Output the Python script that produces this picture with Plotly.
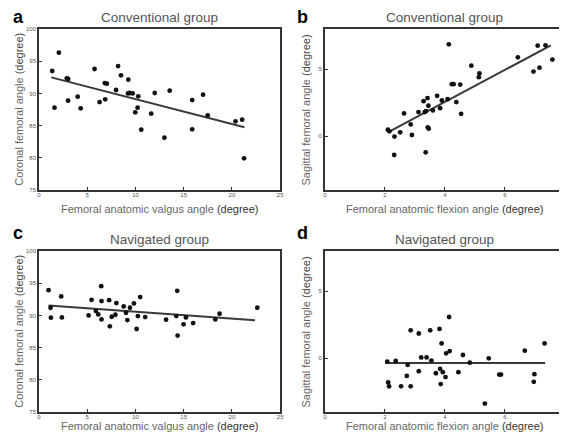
import plotly.graph_objects as go

# Panel a: Conventional group, coronal
a_x = [1.37, 1.61, 2.06, 2.88, 3.02, 3.02, 4.01, 4.32, 5.76, 6.28, 6.82, 7.03, 6.86, 7.99, 8.20, 8.50,
       9.26, 9.22, 9.40, 9.71, 9.98, 10.22, 10.29, 10.60, 11.63, 12.00, 13.0, 13.55, 15.88, 15.88,
       17.01, 17.49, 20.37, 21.06, 21.26]
a_y = [93.48, 87.78, 96.33, 92.34, 92.24, 88.87, 89.49, 87.68, 93.79, 88.66, 91.61, 91.51, 89.08, 90.53,
       94.25, 92.81, 92.13, 90.0, 90.06, 90.0, 87.06, 87.78, 89.54, 84.37, 86.85, 90.06, 83.13, 90.42,
       88.97, 84.42, 89.80, 86.59, 85.66, 85.92, 79.92]
a_fit_x = [1.27, 21.30]
a_fit_y = [92.49, 84.73]

# Panel b: Conventional group, sagittal
b_x = [2.10, 2.15, 2.32, 2.31, 2.51, 2.64, 2.86, 2.90, 3.12, 3.29, 3.33, 3.37, 3.42, 3.45, 3.43, 3.46,
       3.36, 3.60, 3.74, 3.84, 3.90, 4.09, 4.13, 4.23, 4.29, 4.38, 4.51, 4.54, 4.88, 5.13, 5.15, 6.43,
       6.95, 7.09, 7.15, 7.35, 7.58]
b_y = [0.50, 0.37, -0.02, -1.39, 0.30, 1.71, 0.89, 0.10, 1.81, 2.62, 1.81, 1.88, 2.85, 2.28, 0.67, 0.57,
       -1.19, 1.93, 3.02, 2.10, 2.67, 2.77, 6.86, 3.89, 3.89, 2.55, 3.86, 1.68, 5.27, 4.41, 4.70, 5.89,
       4.83, 6.76, 5.12, 6.78, 5.72]
b_fit_x = [2.10, 7.53]
b_fit_y = [0.30, 6.78]

# Panel c: Navigated group, coronal
c_x = [0.99, 1.20, 1.23, 2.30, 2.37, 5.14, 5.45, 5.90, 6.14, 6.45, 6.48, 6.48, 7.27, 7.34, 7.54, 7.92,
       8.02, 8.78, 9.02, 9.16, 9.43, 9.84, 10.12, 10.25, 10.49, 11.01, 13.17, 14.23, 14.33, 14.37, 14.99,
       15.23, 15.98, 18.28, 18.72, 22.63]
c_y = [93.92, 91.19, 89.64, 92.94, 89.69, 90.0, 92.42, 90.67, 90.15, 94.54, 92.22, 89.38, 92.37, 88.30,
       89.79, 90.10, 91.91, 91.39, 90.41, 89.28, 91.19, 91.86, 87.89, 89.90, 92.84, 89.74, 89.33, 89.90,
       93.81, 86.86, 88.61, 89.69, 88.81, 89.38, 90.26, 91.19]
c_fit_x = [0.99, 22.39]
c_fit_y = [91.55, 89.23]

# Panel d: Navigated group, sagittal
d_x = [2.08, 2.11, 2.14, 2.36, 2.54, 2.73, 2.76, 2.86, 2.86, 3.13, 3.13, 3.21, 3.39, 3.51, 3.55, 3.70,
       3.82, 3.84, 3.86, 3.89, 3.93, 4.04, 4.02, 4.14, 4.16, 4.45, 4.60, 4.83, 5.33, 5.46, 5.81, 5.87,
       6.66, 6.98, 6.96, 7.32]
d_y = [-0.25, -1.80, -2.09, -0.20, -2.09, -1.31, -0.49, 2.09, -2.09, 1.85, -0.96, 0.07, 0.07, 2.09, -0.17,
       -1.11, 2.19, -0.79, -1.92, 1.11, -1.03, 0.37, -1.40, 3.08, 0.54, -1.03, 0.25, -0.32, -3.37, 0.0,
       -1.21, -1.21, 0.57, -1.18, -1.75, 1.11]
d_fit_x = [2.01, 7.34]
d_fit_y = [-0.34, -0.34]

titles = ["Conventional group", "Conventional group", "Navigated group", "Navigated group"]
panel_letters = ["a", "b", "c", "d"]
x_titles = ["Femoral anatomic valgus angle", "Femoral anatomic flexion angle",
            "Femoral anatomic valgus angle", "Femoral anatomic flexion angle"]
y_titles = ["Coronal femoral angle", "Sagittal femoral angle",
            "Coronal femoral angle", "Sagittal femoral angle"]

W, H = 567, 432
ML, MR, MT, MB = 31, 6, 21, 28
PW, PH = W - ML - MR, H - MT - MB


def px(x):
    return (x - ML) / PW


def py(y):
    return (H - MB - y) / PH


FONT = "Liberation Sans, Arial, sans-serif"
fig = go.Figure()

panels = [
    (a_x, a_y, a_fit_x, a_fit_y, "x", "y"),
    (b_x, b_y, b_fit_x, b_fit_y, "x2", "y2"),
    (c_x, c_y, c_fit_x, c_fit_y, "x3", "y3"),
    (d_x, d_y, d_fit_x, d_fit_y, "x4", "y4"),
]
for xs, ys, fx, fy, xa, ya in panels:
    fig.add_trace(go.Scatter(x=fx, y=fy, mode="lines", xaxis=xa, yaxis=ya,
                             line=dict(color="#3a3a3a", width=2), showlegend=False))
    fig.add_trace(go.Scatter(x=xs, y=ys, mode="markers", xaxis=xa, yaxis=ya,
                             marker=dict(color="#111111", size=4.8), showlegend=False))

# pixel boxes for plot areas (left, right, top, bottom)
boxes = [(31, 274, 21, 182), (319, 561, 21, 182), (31, 274, 243, 404), (319, 561, 243, 404)]
xranges = [[0, 25], [0, 8], [0, 25], [0, 8]]
yranges = [[75, 100], [-4, 8], [75, 100], [-4, 8]]
xtick = [[0, 5, 10, 15, 20, 25], [0, 2, 4, 6, 8], [0, 5, 10, 15, 20, 25], [0, 2, 4, 6, 8]]
ytick = [[75, 80, 85, 90, 95, 100], [0, 5], [75, 80, 85, 90, 95, 100], [0, 5]]

axis_common = dict(showgrid=False, zeroline=False, showline=True, mirror=True,
                   linecolor="#333333", linewidth=1.5, ticks="inside", ticklen=3,
                   tickcolor="#333333", tickfont=dict(size=6, color="#555555", family=FONT))

for i, (l, r, t, b) in enumerate(boxes):
    sfx = "" if i == 0 else str(i + 1)
    fig.update_layout(**{
        "xaxis" + sfx: dict(domain=[px(l), px(r)], range=xranges[i], tickvals=xtick[i],
                            anchor="y" + sfx, ticklabelstandoff=-2, **axis_common),
        "yaxis" + sfx: dict(domain=[py(b), py(t)], range=yranges[i], tickvals=ytick[i],
                            anchor="x" + sfx, **axis_common),
    })

annotations = []
title_y = [9, 9, 231, 231]
xtitle_y = [201, 201, 418, 418]
ytitle_x = [10, 300, 10, 300]
letter_pos = [(10, 9), (296, 9), (10, 225), (296, 225)]
for i, (l, r, t, b) in enumerate(boxes):
    cx = (l + r) / 2
    annotations.append(dict(text=titles[i], x=px(cx), y=py(title_y[i]), xref="paper", yref="paper",
                            showarrow=False, xanchor="center", yanchor="middle",
                            font=dict(size=13.5, color="#555555", family=FONT)))
    annotations.append(dict(text=x_titles[i] + ' <span style="color:#333333">(degree)</span>',
                            x=px(cx), y=py(xtitle_y[i]), xref="paper", yref="paper",
                            showarrow=False, xanchor="center", yanchor="middle",
                            font=dict(size=11, color="#666666", family=FONT)))
    annotations.append(dict(text=y_titles[i] + ' <span style="color:#444444">(degree)</span>',
                            x=px(ytitle_x[i]), y=py((t + b) / 2), xref="paper", yref="paper",
                            showarrow=False, xanchor="center", yanchor="middle", textangle=-90,
                            font=dict(size=11, color="#666666", family=FONT)))
    lx, ly = letter_pos[i]
    annotations.append(dict(text="<b>" + panel_letters[i] + "</b>", x=px(lx), y=py(ly),
                            xref="paper", yref="paper", showarrow=False,
                            xanchor="center", yanchor="middle",
                            font=dict(size=18, color="#000000", family=FONT)))

fig.update_layout(width=W, height=H, margin=dict(l=ML, r=MR, t=MT, b=MB),
                  paper_bgcolor="white", plot_bgcolor="white", annotations=annotations,
                  font=dict(family=FONT))

fig.write_html("out.html")
